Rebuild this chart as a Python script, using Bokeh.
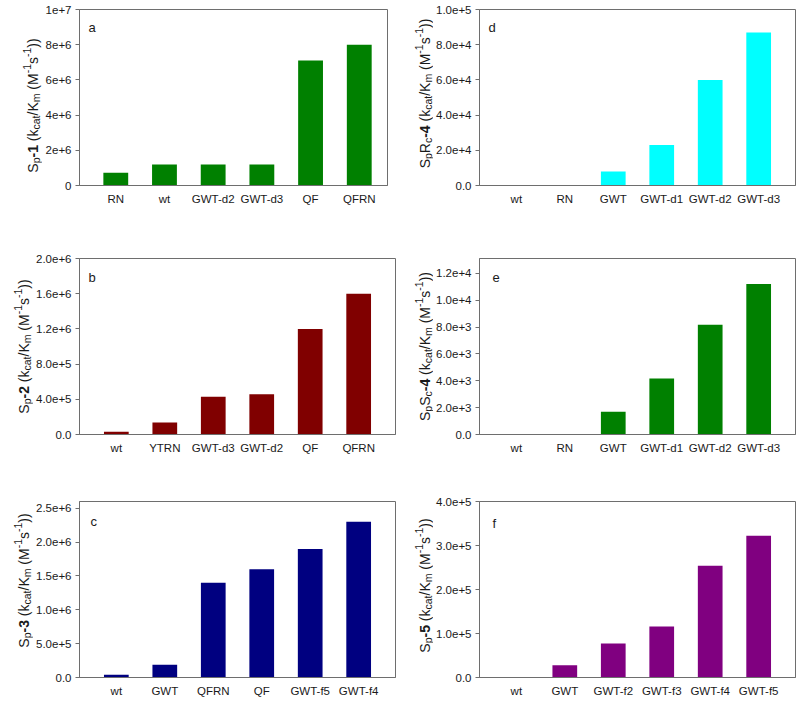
import math
from bokeh.plotting import figure
from bokeh.models import Range1d, FixedTicker, Label
from bokeh.layouts import column, row
from bokeh.embed import file_html
from bokeh.resources import INLINE

# ---------------- data ----------------
a_cats = ["RN", "wt", "GWT-d2", "GWT-d3", "QF", "QFRN"]
a_vals = [730000, 1200000, 1200000, 1200000, 7100000, 8000000]
a_ticks = [0, 2000000, 4000000, 6000000, 8000000, 10000000]
a_tick_labels = ["0", "2e+6", "4e+6", "6e+6", "8e+6", "1e+7"]

b_cats = ["wt", "YTRN", "GWT-d3", "GWT-d2", "QF", "QFRN"]
b_vals = [30000, 135000, 430000, 458000, 1200000, 1600000]
b_ticks = [0, 400000, 800000, 1200000, 1600000, 2000000]
b_tick_labels = ["0.0", "4.0e+5", "8.0e+5", "1.2e+6", "1.6e+6", "2.0e+6"]

c_cats = ["wt", "GWT", "QFRN", "QF", "GWT-f5", "GWT-f4"]
c_vals = [40000, 188000, 1400000, 1600000, 1900000, 2300000]
c_ticks = [0, 500000, 1000000, 1500000, 2000000, 2500000]
c_tick_labels = ["0.0", "5.0e+5", "1.0e+6", "1.5e+6", "2.0e+6", "2.5e+6"]

d_cats = ["wt", "RN", "GWT", "GWT-d1", "GWT-d2", "GWT-d3"]
d_vals = [0, 0, 8000, 23000, 60000, 87000]
d_ticks = [0, 20000, 40000, 60000, 80000, 100000]
d_tick_labels = ["0.0", "2.0e+4", "4.0e+4", "6.0e+4", "8.0e+4", "1.0e+5"]

e_cats = ["wt", "RN", "GWT", "GWT-d1", "GWT-d2", "GWT-d3"]
e_vals = [0, 0, 1700, 4170, 8170, 11200]
e_ticks = [0, 2000, 4000, 6000, 8000, 10000, 12000]
e_tick_labels = ["0.0", "2.0e+3", "4.0e+3", "6.0e+3", "8.0e+3", "1.0e+4", "1.2e+4"]

f_cats = ["wt", "GWT", "GWT-f2", "GWT-f3", "GWT-f4", "GWT-f5"]
f_vals = [0, 28000, 77000, 116000, 254000, 322000]
f_ticks = [0, 100000, 200000, 300000, 400000]
f_tick_labels = ["0.0", "1.0e+5", "2.0e+5", "3.0e+5", "4.0e+5"]

y_max = {"a": 10000000, "b": 2000000, "c": 2600000, "d": 100000, "e": 13100, "f": 400000}
colors = {"a": "#008000", "b": "#800000", "c": "#000080",
          "d": "#00FFFF", "e": "#008000", "f": "#800080"}

# y-axis title pieces: (text, kind) kind: m=main, b=bold, sub, sup
tail = [(" (k", "m"), ("cat", "sub"), ("/K", "m"), ("m", "sub"), (" (M", "m"),
        ("-1", "sup"), ("s", "m"), ("-1", "sup"), ("))", "m")]
a_title = [("S", "m"), ("p", "sub"), ("-1", "b")] + tail
b_title = [("S", "m"), ("p", "sub"), ("-2", "b")] + tail
c_title = [("S", "m"), ("p", "sub"), ("-3", "b")] + tail
d_title = [("S", "m"), ("p", "sub"), ("R", "m"), ("c", "sub"), ("-4", "b")] + tail
e_title = [("S", "m"), ("p", "sub"), ("S", "m"), ("c", "sub"), ("-4", "b")] + tail
f_title = [("S", "m"), ("p", "sub"), ("-5", "b")] + tail

# ---------------- styling / layout ----------------
FONT = "Liberation Sans"
TXT = "#1a1a1a"
EDGE = "#6e6e6e"
MAIN = 14
SMALL = 10.5
ARIAL = {'S': 667, 'p': 556, 'R': 722, 'c': 500, '-': 333, '1': 556, '2': 556,
         '3': 556, '4': 556, '5': 556, ' ': 278, '(': 333, ')': 333, 'k': 500,
         'a': 556, 't': 278, '/': 278, 'K': 667, 'm': 833, 'M': 833, 's': 500}


def tw(s, size):
    return sum(ARIAL[ch] for ch in s) * size / 1000.0


def title_fig(pieces, width, height, mbt, mbb, base_x, center_up):
    """Narrow figure holding the rotated, formatted y-axis title.
    Same top/bottom borders as its panel, ranges in pixels
    (x from the left edge, y above the panel's frame bottom)."""
    fh = height - mbt - mbb
    t = figure(width=width, height=height, output_backend="svg",
               toolbar_location=None, x_range=Range1d(0, width),
               y_range=Range1d(0, fh), min_border_left=0, min_border_right=0,
               min_border_top=mbt, min_border_bottom=mbb,
               x_axis_location=None, y_axis_location=None)
    t.xgrid.visible = False
    t.ygrid.visible = False
    t.outline_line_color = None
    sizes = [SMALL if k in ("sub", "sup") else MAIN for _, k in pieces]
    total = sum(tw(s_, z) for (s_, _), z in zip(pieces, sizes))
    cum = center_up - total / 2.0
    for (txt, k), z in zip(pieces, sizes):
        lead = len(txt) - len(txt.lstrip(" "))
        cum += tw(" " * lead, z)
        txt = txt.lstrip(" ")
        dx = 0
        if k == "sub":
            dx = 3
        elif k == "sup":
            dx = -6
        t.add_layout(Label(x=base_x + dx, y=cum, text=txt,
                           angle=math.pi / 2, text_font=FONT,
                           text_font_size=f"{z}px",
                           text_font_style="bold" if k == "b" else "normal",
                           text_align="left", text_baseline="alphabetic",
                           text_color=TXT))
        cum += tw(txt, z)
    return t


def panel(key, cats, vals, ticks, tick_labels, width, height,
          mbl, mbr, mbt, mbb, xr, xstand, letter_off):
    p = figure(width=width, height=height, output_backend="svg",
               toolbar_location=None, x_range=Range1d(*xr),
               y_range=Range1d(0, y_max[key]),
               min_border_left=mbl, min_border_right=mbr,
               min_border_top=mbt, min_border_bottom=mbb)
    p.vbar(x=list(range(len(cats))), top=vals, width=0.51,
           fill_color=colors[key], line_color=None)
    p.xgrid.visible = False
    p.ygrid.visible = False
    p.outline_line_color = EDGE
    p.outline_line_width = 1
    p.background_fill_color = "white"
    p.border_fill_color = "white"

    xa = p.xaxis[0]
    xa.ticker = FixedTicker(ticks=list(range(len(cats))))
    xa.major_label_overrides = {i: c for i, c in enumerate(cats)}
    xa.major_tick_out = 0
    xa.major_tick_in = 0
    xa.minor_tick_out = 0
    xa.minor_tick_in = 0
    xa.axis_line_color = EDGE
    xa.major_label_standoff = xstand
    xa.major_label_text_font = FONT
    xa.major_label_text_font_size = "11.5px"
    xa.major_label_text_color = TXT

    ya = p.yaxis[0]
    ya.ticker = FixedTicker(ticks=ticks)
    ya.major_label_overrides = {t: l for t, l in zip(ticks, tick_labels)}
    ya.major_tick_out = 4
    ya.major_tick_in = 0
    ya.minor_tick_out = 0
    ya.minor_tick_in = 0
    ya.major_tick_line_color = EDGE
    ya.axis_line_color = EDGE
    ya.major_label_standoff = 4
    ya.major_label_text_font = FONT
    ya.major_label_text_font_size = "11.5px"
    ya.major_label_text_color = TXT

    p.add_layout(Label(x=xr[0], y=y_max[key], x_units="data", y_units="data",
                       x_offset=letter_off[0], y_offset=-letter_off[1],
                       text=key, text_font=FONT, text_font_size="13px",
                       text_align="left", text_baseline="alphabetic",
                       text_color=TXT))
    return p


XR_A = (-0.745, 5.58)
XR = (-0.76, 5.76)
H1, H2, H3 = 251, 243, 207

ta = title_fig(a_title, 42, H1, 9, 66, 32, 80)
pa = panel("a", a_cats, a_vals, a_ticks, a_tick_labels, 366, H1,
           35, 21, 9, 66, XR_A, 7, (9, 18))
td = title_fig(d_title, 25, H1, 9, 66, 16, 92)
pd = panel("d", d_cats, d_vals, d_ticks, d_tick_labels, 367, H1,
           44, 5, 9, 66, XR, 7, (9, 18))

tb = title_fig(b_title, 33, H2, 7, 60, 23.5, 88)
pb = panel("b", b_cats, b_vals, b_ticks, b_tick_labels, 375, H2,
           44, 13, 7, 60, XR, 7, (9, 19))
te = title_fig(e_title, 25, H2, 7, 60, 16, 88)
pe = panel("e", e_cats, e_vals, e_ticks, e_tick_labels, 367, H2,
           44, 5, 7, 60, XR, 7, (13, 19))

tc = title_fig(c_title, 33, H3, 7, 24, 23.5, 97)
pc = panel("c", c_cats, c_vals, c_ticks, c_tick_labels, 375, H3,
           44, 13, 7, 24, XR, 7, (11, 20))
tf = title_fig(f_title, 25, H3, 7, 24, 16, 92)
pf = panel("f", f_cats, f_vals, f_ticks, f_tick_labels, 367, H3,
           44, 5, 7, 24, XR, 7, (13, 22))

layout = column(row(ta, pa, td, pd), row(tb, pb, te, pe), row(tc, pc, tf, pf))

open("out.html", "w").write(file_html(layout, INLINE))
